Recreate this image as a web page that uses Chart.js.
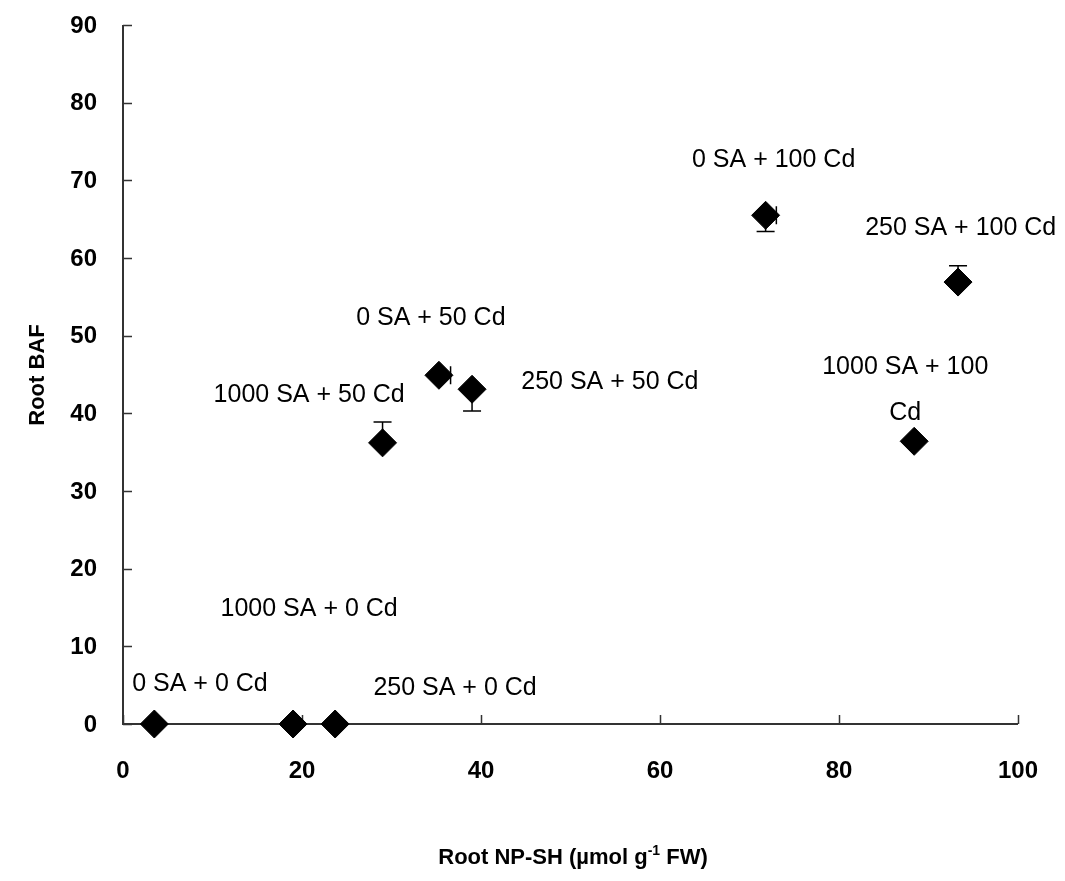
<!DOCTYPE html>
<html>
<head>
<meta charset="utf-8">
<script src="https://cdn.jsdelivr.net/npm/chart.js@4.4.1/dist/chart.umd.min.js"></script>
<style>
  html, body { margin: 0; padding: 0; background: #fff; }
  #wrap { width: 1065px; height: 881px; }
</style>
</head>
<body>
<div id="wrap"><canvas id="bafChart"></canvas></div>
<script>
// treatments
const treatments = ['0 SA + 0 Cd', '1000 SA + 0 Cd', '250 SA + 0 Cd', '1000 SA + 50 Cd', '0 SA + 50 Cd',
    '250 SA + 50 Cd', '0 SA + 100 Cd', '250 SA + 100 Cd', '1000 SA + 100 Cd'];
const npSH = [3.5, 19, 23.7, 29, 35.3, 39, 71.8, 93.3, 88.4];
const rootBAF = [0, 0, 0, 36.2, 44.9, 43.1, 65.5, 56.9, 36.4];
const errUp = [0, 0, 0, 2.7, 0, 0, 0, 2.1, 0];
const errDown = [0, 0, 0, 0, 0, 2.8, 2.1, 0, 0];
const errRight = [0, 0, 0, 0, 1.3, 0, 1.2, 0, 0];
const xTicks = [0, 20, 40, 60, 80, 100];
const yTicks = [0, 10, 20, 30, 40, 50, 60, 70, 80, 90];

// where each treatment name sits (data units), lines split for wrapped ones
const labelAt = [
    { x: 8.6, y: 5.1, lines: ['0 SA + 0 Cd'] },
    { x: 20.8, y: 14.8, lines: ['1000 SA + 0 Cd'] },
    { x: 37.1, y: 4.6, lines: ['250 SA + 0 Cd'] },
    { x: 20.8, y: 42.3, lines: ['1000 SA + 50 Cd'] },
    { x: 34.4, y: 52.3, lines: ['0 SA + 50 Cd'] },
    { x: 54.4, y: 44.0, lines: ['250 SA + 50 Cd'] },
    { x: 72.7, y: 72.6, lines: ['0 SA + 100 Cd'] },
    { x: 93.6, y: 63.8, lines: ['250 SA + 100 Cd'] },
    { x: 87.4, y: 45.9, lines: ['1000 SA + 100', 'Cd'] }
];

const tickFont = 'bold 24px "Liberation Sans", Arial, sans-serif';

const extras = {
    id: 'extras',
    beforeDatasetsDraw(chart) {
        const ctx = chart.ctx;
        const xs = chart.scales.x, ys = chart.scales.y;
        const a = chart.chartArea;
        ctx.save();
        // axis lines and inward tick marks
        ctx.strokeStyle = '#333';
        ctx.lineWidth = 2;
        ctx.beginPath();
        ctx.moveTo(a.left, a.top); ctx.lineTo(a.left, a.bottom); ctx.lineTo(a.right, a.bottom);
        ctx.stroke();
        ctx.lineWidth = 1.5;
        ctx.beginPath();
        yTicks.forEach(t => {
            const py = Math.round(ys.getPixelForValue(t)) + 0.5;
            ctx.moveTo(a.left, py); ctx.lineTo(a.left + 9, py);
        });
        xTicks.forEach(t => {
            const px = Math.round(xs.getPixelForValue(t)) + 0.5;
            ctx.moveTo(px, a.bottom); ctx.lineTo(px, a.bottom - 9);
        });
        ctx.stroke();

        // error bars
        ctx.strokeStyle = '#000';
        npSH.forEach((v, i) => {
            const px = xs.getPixelForValue(v);
            const py = ys.getPixelForValue(rootBAF[i]);
            const cap = 9;
            if (errUp[i]) {
                const t = ys.getPixelForValue(rootBAF[i] + errUp[i]);
                ctx.beginPath(); ctx.moveTo(px, py); ctx.lineTo(px, t);
                ctx.moveTo(px - cap, t); ctx.lineTo(px + cap, t); ctx.stroke();
            }
            if (errDown[i]) {
                const b = ys.getPixelForValue(rootBAF[i] - errDown[i]);
                ctx.beginPath(); ctx.moveTo(px, py); ctx.lineTo(px, b);
                ctx.moveTo(px - cap, b); ctx.lineTo(px + cap, b); ctx.stroke();
            }
            if (errRight[i]) {
                const r = xs.getPixelForValue(v + errRight[i]);
                ctx.beginPath(); ctx.moveTo(px, py); ctx.lineTo(r, py);
                ctx.moveTo(r, py - cap); ctx.lineTo(r, py + cap); ctx.stroke();
            }
        });
        ctx.restore();
    },
    afterDraw(chart) {
        const ctx = chart.ctx;
        const xs = chart.scales.x, ys = chart.scales.y;
        const a = chart.chartArea;
        ctx.save();
        // tick labels
        ctx.fillStyle = '#000';
        ctx.font = tickFont;
        ctx.textBaseline = 'middle';
        ctx.textAlign = 'right';
        yTicks.forEach(t => ctx.fillText(String(t), a.left - 26, ys.getPixelForValue(t) + 1));
        ctx.textAlign = 'center';
        xTicks.forEach(t => ctx.fillText(String(t), xs.getPixelForValue(t), a.bottom + 47));

        // treatment names
        ctx.font = '25px "Liberation Sans Narrow", "Liberation Sans", sans-serif';
        labelAt.forEach(l => {
            const px = xs.getPixelForValue(l.x);
            let py = ys.getPixelForValue(l.y);
            l.lines.forEach(line => { ctx.fillText(line, px, py); py += 46; });
        });

        // axis titles
        ctx.font = 'bold 22px "Liberation Sans", Arial, sans-serif';
        ctx.save();
        ctx.translate(38, 375);
        ctx.rotate(-Math.PI / 2);
        ctx.fillText('Root BAF', 0, 0);
        ctx.restore();

        const p1 = 'Root NP-SH (µmol g', sup = '-1', p2 = ' FW)';
        const fMain = 'bold 22px "Liberation Sans", Arial, sans-serif';
        const fSup = 'bold 14px "Liberation Sans", Arial, sans-serif';
        ctx.font = fMain; const w1 = ctx.measureText(p1).width, w3 = ctx.measureText(p2).width;
        ctx.font = fSup; const w2 = ctx.measureText(sup).width;
        let x0 = 573 - (w1 + w2 + w3) / 2;
        const ty = 858;
        ctx.textAlign = 'left';
        ctx.font = fMain; ctx.fillText(p1, x0, ty); x0 += w1;
        ctx.font = fSup; ctx.fillText(sup, x0, ty - 7); x0 += w2;
        ctx.font = fMain; ctx.fillText(p2, x0, ty);
        ctx.restore();
    }
};

document.addEventListener('DOMContentLoaded', function() {
    const ctx = document.getElementById('bafChart').getContext('2d');
    const bafChart = new Chart(ctx, {
        type: 'scatter',
        data: {
            labels: treatments,
            datasets: [{
                label: 'Root BAF',
                data: npSH.map((v, i) => ({ x: v, y: rootBAF[i] })),
                pointStyle: 'rectRot',
                pointRadius: 14,
                pointHoverRadius: 14,
                backgroundColor: '#000',
                borderColor: '#000',
                borderWidth: 1,
                clip: false
            }]
        },
        options: {
            responsive: true,
            maintainAspectRatio: false,
            animation: false,
            layout: { padding: { left: 0, right: 47, top: 25, bottom: 0 } },
            plugins: {
                legend: { display: false },
                tooltip: { enabled: false }
            },
            scales: {
                x: {
                    type: 'linear',
                    min: 0, max: 100,
                    grid: { display: false },
                    border: { display: false },
                    ticks: { display: false },
                    afterFit(scale) { scale.height = 157; }
                },
                y: {
                    min: 0, max: 90,
                    grid: { display: false },
                    border: { display: false },
                    ticks: { display: false },
                    afterFit(scale) { scale.width = 123; }
                }
            }
        },
        plugins: [extras]
    });
});
</script>
</body>
</html>
